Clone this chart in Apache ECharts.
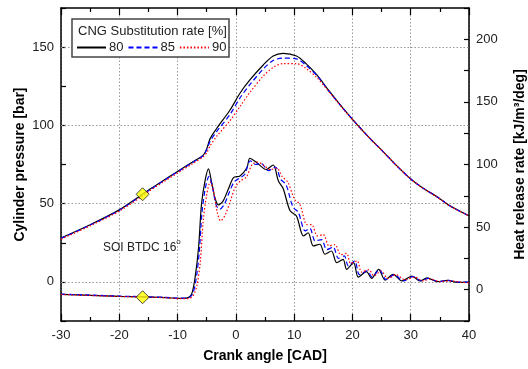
<!DOCTYPE html>
<html>
<head>
<meta charset="utf-8">
<script src="https://cdn.jsdelivr.net/npm/echarts@6/dist/echarts.min.js"></script>
<style>html,body{margin:0;padding:0;background:#fff;}#c{width:528px;height:369px;}</style>
</head>
<body>
<div id="c"></div>
<script>
// ---- data ----
const legendNames = ['80', '85', '90'];
const crankP = [-30,-25,-20,-16,-14.7,-12.5,-10,-7.5,-5.6,-5.0,-4.4,-3.3,-1,0.7,2.4,4.7,6.4,8.1,10.4,12,13.9,16.1,18.4,20.7,23,25.3,27.5,29.9,32.2,34.5,36.7,40];
const p80 = [28,36.5,46,56,59.3,64.6,70.6,76.4,81,85,91.7,98,109.8,120.5,129,138.6,144.3,146,144.3,139.6,132.2,121.5,110.9,101,91.7,83.1,74.6,66.1,59.7,54.4,48.6,42.2];
const p85 = [27.8,36.3,45.8,55.7,59,64.3,70.3,76.1,80.7,84.5,90,96,107,117.5,126,136,141.5,143,142.5,138.5,131.8,121.2,110.8,101,91.7,83.1,74.6,66.1,59.7,54.4,48.6,42.2];
const p90 = [27.3,35.8,45.2,55,58.4,63.7,69.6,75.4,80,82.5,87,93,103,112,121,131.5,137,139.5,139.5,136.5,130.5,121,110.5,100.8,91.6,83,74.5,66,59.6,54.3,48.5,42.1];

const crankH80 = [-30,-25,-20,-16,-12,-9.5,-8.3,-7.6,-7.0,-6.4,-5.9,-5.3,-4.7,-4.2,-3.6,-3.0,-2.2,-1.3,-0.4,0.7,1.9,2.4,3.6,5.2,6.4,7.3,8.1,9.3,10.4,11.6,12.4,13.3,14.4,15.3,16.4,17.3,18.4,19.0,20.2,21.0,22.4,23.3,24.5,25.6,27.0,28.5,30.2,31.6,32.8,34.6,36.3,38.0,40];
const h80 = [-3.7,-4.5,-5.3,-5.8,-6.3,-7.0,-6.5,-3.7,9.6,33.5,68,86.8,96.5,86.8,73.5,67.7,70.8,80.2,89.5,90.9,97.4,105,101.4,96,99.6,86.8,81,63,58.9,42.9,45.5,34.9,36.3,28.3,30.9,21.6,24.3,16.3,21.6,10,14.4,9.1,16.3,7.7,12.3,7,10.9,7,9.5,6.4,7.5,5.8,6];
const crankH85 = [-30,-25,-20,-16,-12,-9.5,-8.3,-7.5,-6.9,-6.3,-5.8,-5.2,-4.6,-4.0,-3.4,-2.8,-2.0,-1.2,-0.3,0.6,1.5,2.5,3.4,4.3,5.6,6.8,7.7,8.6,9.8,10.7,11.9,12.7,13.6,14.7,15.6,16.7,17.6,18.6,19.3,20.4,21.2,22.5,23.4,24.6,25.8,27.2,28.7,30.4,31.8,33,34.8,36.5,38.2,40];
const h85 = [-3.5,-4.3,-5.1,-5.6,-6.1,-6.8,-6.6,-4,6,29,62,82,90.5,82,68,64.2,68,77,86,89,92,103,100,101,95,98,88,84,66,62,47,49,39,40,32,34,25,27,19,23,12,15,10,16,8,12,7,10.5,7,9,6.5,7.5,6,6];
const crankH90 = [-30,-25,-20,-16,-12,-9.5,-8.0,-7.3,-6.7,-6.1,-5.6,-5.0,-4.4,-3.8,-3.2,-2.6,-1.8,-1.0,-0.1,0.8,1.8,2.8,3.7,4.6,5.9,7.0,8.0,8.9,10.1,11.0,12.2,13.0,14.0,15.0,16.0,17.0,18.0,19.0,19.7,20.8,21.6,22.8,23.7,24.9,26.1,27.5,29.0,30.7,32.1,33.3,35.0,36.8,38.5,40];
const h90 = [-3.8,-4.6,-5.4,-5.9,-6.4,-7.2,-7.0,-4.5,3,22,55,76,86,78,62,55,60,70,82,87,90,100,102,100,96,97,90,86,72,68,52,52,43,44,35,36,28,29,21,23,14,16,11,15,9,12,8,10,7,8.5,6.5,7,6,5.5];

const markerCrank = -16;
const markerP = 56;
const markerH = -6;
const pressureGrid = [0, 50, 100, 150];

// ---- chart ----
const FONT = 'Liberation Sans, Arial, sans-serif';
const zip = (xs, ys) => xs.map((x, i) => [x, ys[i]]);
const colors = ['#000000', '#0000ff', '#ff0000'];
const dashes = ['solid', [5, 3], [1.5, 2]];
const pSets = [p80, p85, p90];
const hSets = [[crankH80, h80], [crankH85, h85], [crankH90, h90]];

const series = [];
legendNames.forEach((n, i) => {
  const s = {
    name: n, type: 'line', xAxisIndex: 0, yAxisIndex: 0,
    data: zip(crankP, pSets[i]), symbol: 'none', showSymbol: false, smooth: 0.3,
    lineStyle: { color: colors[i], width: 1.2, type: dashes[i] },
    itemStyle: { color: colors[i] }, z: 3 + i
  };
  if (i === 0) {
    s.markLine = {
      silent: true, symbol: 'none', label: { show: false },
      lineStyle: { color: '#999', type: [1.5, 2], width: 1 },
      data: pressureGrid.map(v => ({ yAxis: v })), z: 1
    };
  }
  series.push(s);
});
legendNames.forEach((n, i) => {
  series.push({
    name: n, type: 'line', xAxisIndex: 0, yAxisIndex: 1,
    data: zip(hSets[i][0], hSets[i][1]), symbol: 'none', showSymbol: false, smooth: 0.3,
    lineStyle: { color: colors[i], width: 1.2, type: dashes[i] },
    itemStyle: { color: colors[i] }, z: 3 + i
  });
});
series.push({
  type: 'scatter', xAxisIndex: 0, yAxisIndex: 0, data: [[markerCrank, markerP]],
  symbol: 'diamond', symbolSize: 13, z: 10,
  itemStyle: { color: '#ffff00', borderColor: '#222', borderWidth: 1 }
});
series.push({
  type: 'scatter', xAxisIndex: 0, yAxisIndex: 1, data: [[markerCrank, markerH]],
  symbol: 'diamond', symbolSize: 13, z: 10,
  itemStyle: { color: '#ffff00', borderColor: '#222', borderWidth: 1 }
});

const axisLine = { show: true, onZero: false, lineStyle: { color: '#000', width: 1.5 } };
const labelStyle = { color: '#222', fontFamily: FONT, fontSize: 13 };
const nameStyle = { color: '#000', fontFamily: FONT, fontSize: 14, fontWeight: 'bold' };

const chart = echarts.init(document.getElementById('c'));
chart.setOption({
  animation: false,
  backgroundColor: '#fff',
  grid: { left: 61, right: 59, top: 8, bottom: 48, containLabel: false, outerBoundsMode: 'none' },
  legend: {
    data: legendNames, left: 76, top: 41, padding: 0, itemWidth: 29, itemHeight: 10, itemGap: 4,
    itemStyle: { opacity: 0 },
    textStyle: { color: '#222', fontFamily: FONT, fontSize: 13, padding: [0, 0, 0, -2] },
    selectedMode: false, z: 6
  },
  graphic: [
    { type: 'rect', z: 4, shape: { x: 72, y: 19, width: 157, height: 38 },
      style: { fill: '#fff', stroke: '#444', lineWidth: 1.5 } },
    { type: 'text', z: 6, left: 78, top: 25,
      style: { text: 'CNG Substitution rate [%]', fill: '#222', font: '13px ' + FONT } },
    { type: 'text', z: 6, left: 103, top: 238,
      style: { text: 'SOI BTDC 16{s|o}', fill: '#222', font: '12px ' + FONT,
        rich: { s: { fontSize: 8, fontFamily: FONT, fill: '#222', verticalAlign: 'bottom', lineHeight: 8, padding: [0, 0, 8, 0] } } } }
  ],
  xAxis: [
    { type: 'value', min: -30, max: 40, interval: 10, position: 'bottom',
      name: 'Crank angle [CAD]', nameLocation: 'middle', nameGap: 28, nameTextStyle: nameStyle,
      nameMoveOverlap: false,
      axisLine: axisLine,
      axisTick: { inside: true, length: 7, lineStyle: { color: '#000', width: 1.2 } },
      minorTick: { show: true, splitNumber: 2, length: 4, lineStyle: { color: '#000', width: 1.2 } },
      axisLabel: Object.assign({ margin: 8 }, labelStyle),
      splitLine: { show: true, lineStyle: { color: '#999', type: [1.5, 2], width: 1 } } },
    { type: 'value', min: -30, max: 40, interval: 10, position: 'top',
      axisLine: axisLine,
      axisTick: { inside: true, length: 7, lineStyle: { color: '#000', width: 1.2 } },
      minorTick: { show: true, splitNumber: 2, length: 4, lineStyle: { color: '#000', width: 1.2 } },
      axisLabel: { show: false }, splitLine: { show: false } }
  ],
  yAxis: [
    { type: 'value', min: -25, max: 175, interval: 25, position: 'left',
      name: 'Cylinder pressure [bar]', nameLocation: 'middle', nameGap: 34, nameRotate: 90,
      nameMoveOverlap: false,
      nameTextStyle: nameStyle, axisLine: axisLine,
      axisTick: { inside: true, length: 5, lineStyle: { color: '#000', width: 1.2 } },
      axisLabel: Object.assign({ margin: 7, formatter: v => (v % 50 === 0 ? String(v) : '') }, labelStyle),
      splitLine: { show: false } },
    { type: 'value', min: -25, max: 225, interval: 25, position: 'right',
      name: 'Heat release rate [kJ/m³/deg]', nameLocation: 'middle', nameGap: 44, nameRotate: 90,
      nameMoveOverlap: false,
      nameTextStyle: nameStyle, axisLine: axisLine,
      axisTick: { inside: true, length: 5, lineStyle: { color: '#000', width: 1.2 } },
      axisLabel: Object.assign({ margin: 7, formatter: v => (v % 50 === 0 ? String(v) : '') }, labelStyle),
      splitLine: { show: false } }
  ],
  series: series
});
</script>
</body>
</html>
